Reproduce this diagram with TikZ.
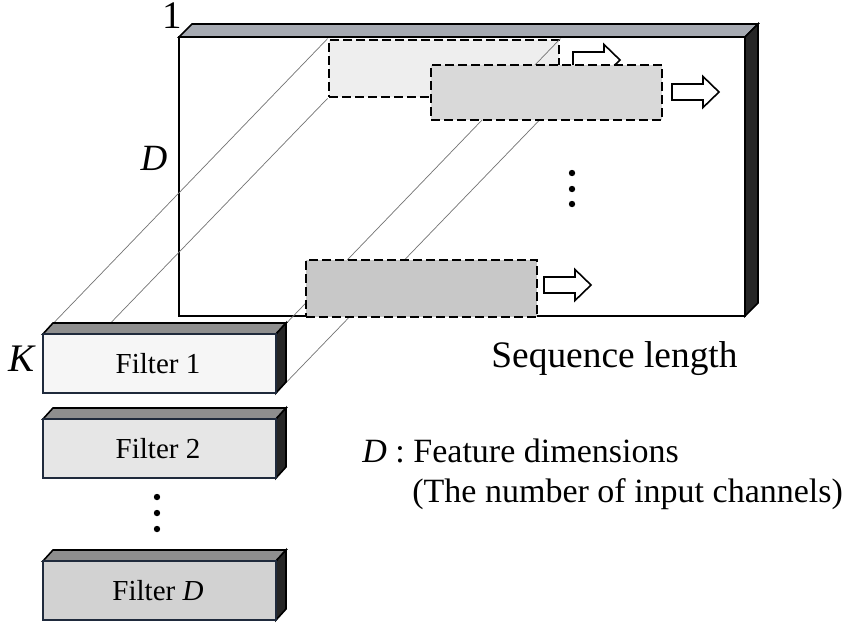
\documentclass[tikz,border=0pt]{standalone}
\usepackage{fontspec}
\setmainfont{Liberation Serif}
\usetikzlibrary{positioning,calc}
\definecolor{lidgray}{HTML}{A6AAB2}
\definecolor{lidfilt}{HTML}{8E8E8E}
\definecolor{sidedark}{HTML}{262626}
\definecolor{edgenavy}{HTML}{1F2A3C}
\definecolor{winone}{HTML}{EEEEEE}
\definecolor{wintwo}{HTML}{D9D9D9}
\definecolor{winlast}{HTML}{C8C8C8}
\definecolor{filtone}{HTML}{F6F6F6}
\definecolor{filttwo}{HTML}{E6E6E6}
\definecolor{filtlast}{HTML}{D2D2D2}
\tikzset{
  window/.style={draw=black,line width=1.4pt,dash pattern=on 4.5pt off 2pt,inner sep=0pt},
  proj/.style={draw=black!55,line width=0.35pt},
  slide/.pic={\draw[fill=white,line width=0.8pt] (0,-8) -- (31,-8) -- (31,-15.5) -- (47,0) -- (31,15.5) -- (31,8) -- (0,8) -- cycle;},
}

\begin{document}
\begin{tikzpicture}[x=0.5pt,y=-0.5pt]
\useasboundingbox (0,0) rectangle (868,622);
% input sequence, D x length
\coordinate (inNW) at (179,37);
\coordinate (inSE) at (745,316);
\fill[lidgray,draw=black,line width=0.8pt] (inNW) -- ++(13,-13) -- (758,24) -- (745,37) -- cycle;
\fill[sidedark,draw=black,line width=0.8pt] (745,37) -- (758,24) -- (758,303) -- (inSE) -- cycle;
\draw[line width=1pt,fill=white] (inNW) rectangle (inSE);
% filter 1 corners (box drawn later)
\coordinate (f1-tl) at (43,334);
\coordinate (f1-bl) at (43,393);
\coordinate (f1-tr) at (276,334);
\coordinate (f1-br) at (276,393);
\node[window,fill=winone,minimum width=115pt,minimum height=28.5pt] (winA) at (444,68.5) {};
\draw[proj] (f1-tl) -- (winA.north west);
\draw[proj] (f1-bl) -- (winA.south west);
\draw[proj] (f1-tr) -- (winA.north east);
\draw[proj] (f1-br) -- (winA.south east);
\pic at (573,60) {slide};
\node[window,fill=wintwo,minimum width=115.5pt,minimum height=27.5pt] (winB) at (546.5,92.5) {};
\pic at (672,92) {slide};
\foreach \y in {173,189,204} \fill (572,\y) circle (1.6pt);
\node[window,fill=winlast,minimum width=115.5pt,minimum height=28.5pt] (winC) at (421.5,288.5) {};
\pic at (544,285) {slide};
% filters
\foreach \fid/\ftop/\fcol/\ftxt in {one/334/filtone/Filter 1,two/419/filttwo/Filter 2,last/561/filtlast/{Filter \textit{D}}} {
  \fill[lidfilt,draw=black,line width=0.8pt] (43,\ftop) -- ++(10,-11) -- ++(233,0) -- ++(-10,11) -- cycle;
  \fill[sidedark,draw=black,line width=0.8pt] (276,\ftop) -- ++(10,-11) -- ++(0,59) -- ++(-10,11) -- cycle;
  \draw[edgenavy,line width=0.9pt,fill=\fcol] (43,\ftop) rectangle ++(233,59);
  \node[font=\fontsize{14.5}{16}\selectfont] (filt-\fid) at (158,\ftop+29.5) {\ftxt};
}
\foreach \y in {497,513,529} \fill (157,\y) circle (1.6pt);
% labels
\node[font=\fontsize{19.5}{22}\selectfont] (lbl-one) at (172,16) {1};
\node[font=\fontsize{18.5}{20}\selectfont\itshape] (lbl-D) at (154,158) {D};
\node[font=\fontsize{19.5}{22}\selectfont\itshape] (lbl-K) at (22,359) {K};
\node[anchor=base west,inner sep=0pt,font=\fontsize{18.7}{22}\selectfont] (lbl-seq) at (491,367) {Sequence length};
\node[anchor=base west,inner sep=0pt,font=\fontsize{17}{20}\selectfont] (key-D) at (362,462) {\textit{D} : Feature dimensions};
\node[anchor=base west,inner sep=0pt,font=\fontsize{17}{20}\selectfont] (key-ch) at (412,502) {(The number of input channels)};
\end{tikzpicture}
\end{document}
